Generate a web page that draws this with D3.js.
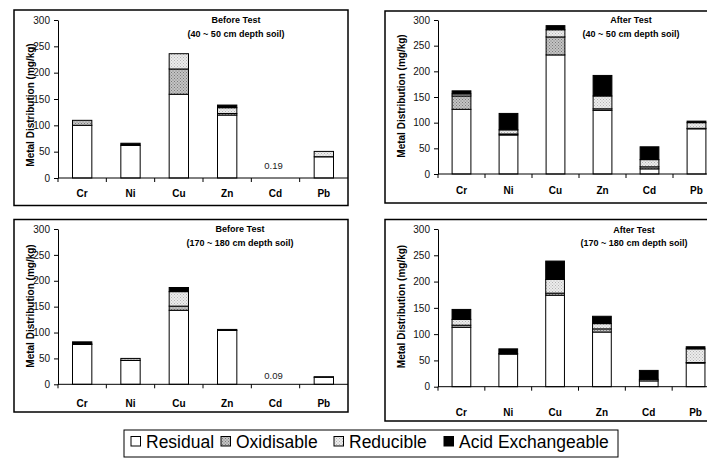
<!DOCTYPE html>
<html><head><meta charset="utf-8">
<script src="https://cdn.jsdelivr.net/npm/d3@7/dist/d3.min.js"></script>
<style>
html,body{margin:0;padding:0;background:#fff;}
svg{display:block;font-family:"Liberation Sans",Arial,sans-serif;}
</style></head>
<body>
<svg id="chart" width="707" height="464"></svg>
<script>
// ---- data ----
const categories = ["Cr","Ni","Cu","Zn","Cd","Pb"];
const fractions = ["Residual","Oxidisable","Reducible","Acid Exchangeable"];
const yTicks = [0,50,100,150,200,250,300];

// Before Test (40 ~ 50 cm)
const b1Residual   = [100, 62, 159, 119.5, 0.12, 40];
const b1Oxidisable = [9.5, 0, 48, 3, 0.03, 0.5];
const b1Reducible  = [0, 0, 29, 11, 0.02, 10];
const b1Acid       = [0, 4, 0, 5, 0.02, 0];
// After Test (40 ~ 50 cm)
const a1Residual   = [126, 76, 232, 124, 10, 88];
const a1Oxidisable = [26, 2, 35, 3, 4, 1];
const a1Reducible  = [4, 8, 14, 25, 14, 11];
const a1Acid       = [6, 32, 8, 40, 25, 3];
// Before Test (170 ~ 180 cm)
const b2Residual   = [77, 46, 143, 104, 0.05, 13.5];
const b2Oxidisable = [1, 4, 8, 2, 0.02, 1.2];
const b2Reducible  = [0, 0, 28, 0, 0.01, 0];
const b2Acid       = [4, 0, 8, 0, 0.01, 0];
// After Test (170 ~ 180 cm)
const a2Residual   = [113, 62, 174, 104, 11, 45];
const a2Oxidisable = [4, 1, 4, 6, 3, 1];
const a2Reducible  = [11, 0, 26, 10, 0, 26];
const a2Acid       = [19, 9, 35, 14, 17, 4];

const titles = [["Before Test","(40 ~ 50 cm depth soil)"],["After Test","(40 ~ 50 cm depth soil)"],
                ["Before Test","(170 ~ 180 cm depth soil)"],["After Test","(170 ~ 180 cm depth soil)"]];
const notes = ["0.19", null, "0.09", null];
const yTitle = "Metal Distribution (mg/kg)";

// ---- layout ----
const layouts = [
  {frame:[14,10,334,195.5], x0:58, x1:348, yTop:20, yBot:178, tx:236, ty:[23,36.5], ytx:34, yty:105, catY:197, noteY:169},
  {frame:[385,11,400,192], x0:438, x1:720, yTop:20, yBot:174, tx:631, ty:[23,36.5], ytx:405, yty:96, catY:194},
  {frame:[14,219.5,334,192.5], x0:58, x1:348, yTop:229, yBot:384.3, tx:240, ty:[232,245.5], ytx:34, yty:306, catY:406.5, noteY:379},
  {frame:[385,219.5,400,201.5], x0:438, x1:719, yTop:229, yBot:386.7, tx:634, ty:[232.5,245.7], ytx:405, yty:306.5, catY:415.5}
];
const panelData = [
  [b1Residual,b1Oxidisable,b1Reducible,b1Acid],
  [a1Residual,a1Oxidisable,a1Reducible,a1Acid],
  [b2Residual,b2Oxidisable,b2Reducible,b2Acid],
  [a2Residual,a2Oxidisable,a2Reducible,a2Acid]
];

const svg = d3.select("#chart");
const defs = svg.append("defs");
function dotPattern(id, bg, dot){
  const p = defs.append("pattern").attr("id",id).attr("width",3).attr("height",3).attr("patternUnits","userSpaceOnUse");
  p.append("rect").attr("width",3).attr("height",3).attr("fill",bg);
  p.append("rect").attr("width",1).attr("height",1).attr("fill",dot);
  p.append("rect").attr("x",1.5).attr("y",1.5).attr("width",1).attr("height",1).attr("fill",dot);
}
dotPattern("pOx","#c4c4c4","#7a7a7a");
dotPattern("pRe","#ececec","#b4b4b4");
const fills = {"Residual":"#ffffff","Oxidisable":"url(#pOx)","Reducible":"url(#pRe)","Acid Exchangeable":"#000000"};

layouts.forEach((L, pi) => {
  const g = svg.append("g");
  g.append("rect").attr("x",L.frame[0]).attr("y",L.frame[1]).attr("width",L.frame[2]).attr("height",L.frame[3])
    .attr("fill","none").attr("stroke","#000").attr("stroke-width",1.5);

  const y = d3.scaleLinear().domain([0,300]).range([L.yBot, L.yTop]);
  const xo = d3.scaleBand().domain(categories).range([L.x0, L.x1]).padding(0);
  const xb = d3.scaleBand().domain(categories).range([L.x0, L.x1]).paddingInner(0.6).paddingOuter(0.3);

  const rows = categories.map((c,i) => {
    const r = {cat:c};
    fractions.forEach((f,k)=> r[f] = panelData[pi][k][i]);
    return r;
  });
  const stack = d3.stack().keys(fractions)(rows);
  stack.forEach(layer => {
    g.append("g").selectAll("rect").data(layer).join("rect")
      .attr("x", d => xb(d.data.cat))
      .attr("width", xb.bandwidth())
      .attr("y", d => y(d[1]))
      .attr("height", d => Math.max(0, y(d[0]) - y(d[1])))
      .attr("fill", fills[layer.key])
      .attr("stroke", "#000").attr("stroke-width", 1)
      .attr("display", d => (d[1]-d[0]) > 0.5 ? null : "none");
  });

  const ya = g.append("g").attr("transform",`translate(${L.x0},0)`)
    .call(d3.axisLeft(y).tickValues(yTicks).tickSize(4).tickPadding(4).tickSizeOuter(0));
  ya.select(".domain").attr("stroke","#000");
  ya.selectAll("text").attr("font-size",10).attr("fill","#111").attr("font-family","Liberation Sans, Arial, sans-serif");

  g.append("line").attr("x1",L.x0).attr("x2",L.x1).attr("y1",y(0)).attr("y2",y(0)).attr("stroke","#000");
  g.append("g").selectAll("line").data(categories).join("line")
    .attr("x1",d=>xo(d)).attr("x2",d=>xo(d)).attr("y1",y(0)).attr("y2",y(0)+4).attr("stroke","#000");
  g.append("g").selectAll("text").data(categories).join("text")
    .attr("x",d=>xo(d)+xo.bandwidth()/2).attr("y",L.catY)
    .attr("text-anchor","middle").attr("font-size",10).attr("font-weight","bold").text(d=>d);

  titles[pi].forEach((t,k)=>{
    g.append("text").attr("x",L.tx).attr("y",L.ty[k]).attr("text-anchor","middle")
      .attr("font-size",9).attr("font-weight","bold").text(t);
  });
  g.append("text").attr("transform",`translate(${L.ytx},${L.yty}) rotate(-90)`)
    .attr("text-anchor","middle").attr("font-size",10).attr("font-weight","bold").text(yTitle);
  if (notes[pi]) {
    g.append("text").attr("x",xo("Cd")+xo.bandwidth()/2 - 2).attr("y",L.noteY).attr("text-anchor","middle")
      .attr("font-size",9.5).attr("fill","#222").text(notes[pi]);
  }
});

// legend
const leg = svg.append("g");
const legX = [131, 221, 334, 444];
leg.append("rect").attr("x",124).attr("y",430).attr("width",494).attr("height",27)
  .attr("fill","#fff").attr("stroke","#000").attr("stroke-width",1);
fractions.forEach((f,i)=>{
  leg.append("rect").attr("x",legX[i]).attr("y",436.5).attr("width",9.5).attr("height",9.5)
    .attr("fill",fills[f]).attr("stroke","#000").attr("stroke-width",1);
  leg.append("text").attr("x",legX[i]+15).attr("y",447.5).attr("font-size",17.5).text(f);
});
</script>
</body></html>
